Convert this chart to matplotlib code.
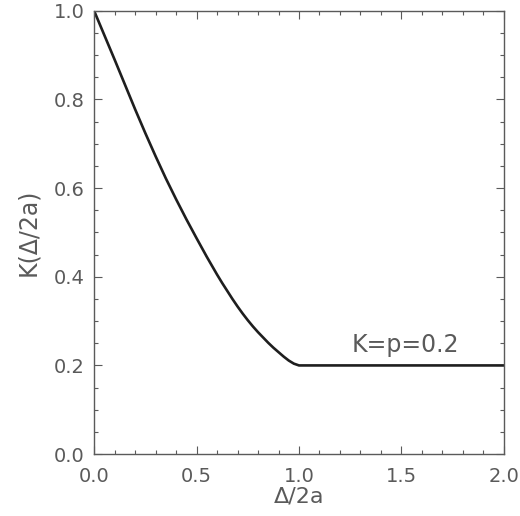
import numpy as np
import matplotlib.pyplot as plt
from matplotlib.ticker import MultipleLocator

# K as a function of separation; flat at p beyond 1
sep = [0.00, 0.05, 0.10, 0.15, 0.20, 0.25, 0.30, 0.35, 0.40, 0.45, 0.50,
       0.55, 0.60, 0.625, 0.65, 0.675, 0.70, 0.725, 0.75, 0.775, 0.80,
       0.825, 0.85, 0.875, 0.90, 0.925, 0.95, 0.975, 1.00, 2.00]
kval = [1.000, 0.945, 0.890, 0.834, 0.778, 0.724, 0.672, 0.622, 0.575, 0.530, 0.487,
        0.445, 0.405, 0.386, 0.368, 0.350, 0.333, 0.317, 0.302, 0.288, 0.275,
        0.263, 0.251, 0.240, 0.230, 0.220, 0.211, 0.204, 0.200, 0.200]
p_label = "K=p=0.2"

grey = '#5a5a5a'
plt.rcParams['font.family'] = 'DejaVu Sans'

fig = plt.figure(figsize=(5.2, 5.16), dpi=100)
ax = fig.add_axes([0.181, 0.120, 0.788, 0.859])

ax.plot(sep, kval, color='#1e1e1e', lw=1.9, solid_joinstyle='round')
ax.text(1.52, 0.247, p_label, ha='center', va='center', fontsize=17, color=grey)

ax.set_xlim(0, 2.0)
ax.set_ylim(0, 1.0)
ax.xaxis.set_major_locator(MultipleLocator(0.5))
ax.xaxis.set_minor_locator(MultipleLocator(0.1))
ax.yaxis.set_major_locator(MultipleLocator(0.2))
ax.yaxis.set_minor_locator(MultipleLocator(0.05))
ax.xaxis.set_major_formatter(lambda v, pos: f"{v:.1f}")
ax.yaxis.set_major_formatter(lambda v, pos: f"{v:.1f}")

ax.tick_params(which='both', direction='in', top=True, right=True, color=grey,
               labelcolor=grey, labelsize=14, width=0.8)
ax.tick_params(which='major', length=6)
ax.tick_params(which='minor', length=3)
ax.tick_params(axis='x', pad=9)
ax.tick_params(axis='y', pad=7)
for s in ax.spines.values():
    s.set_color(grey)
    s.set_linewidth(1.0)

ax.set_xlabel('Δ/2a', fontsize=16, color=grey, labelpad=1)
ax.set_ylabel('K(Δ/2a)', fontsize=17, color=grey, labelpad=10)

fig.savefig('out.png', dpi=100)
